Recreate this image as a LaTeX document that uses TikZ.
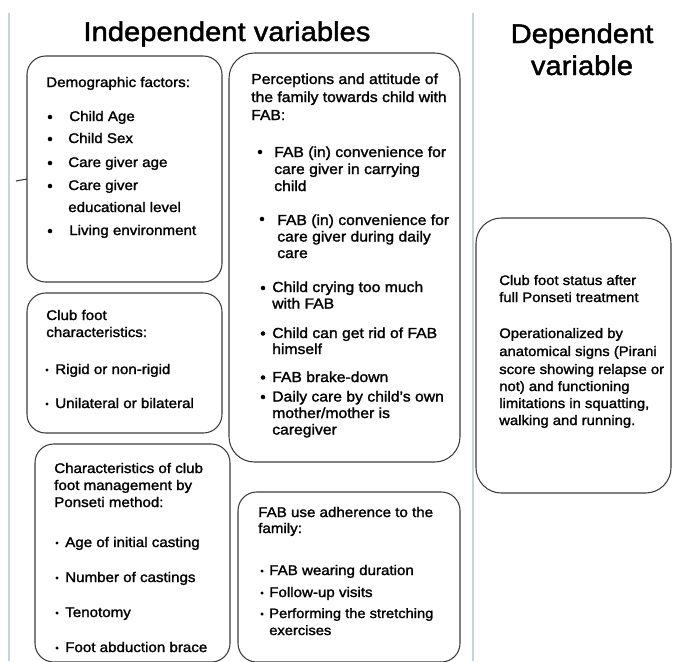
\documentclass[tikz,border=0pt]{standalone}
\usepackage{fontspec}
\setmainfont{Liberation Sans}[FakeStretch=1.08, FakeBold=1.6]
\usetikzlibrary{positioning}

\definecolor{rulecol}{HTML}{C8D2E2}
\definecolor{boxcol}{HTML}{3C3C3C}

\begin{document}
\begin{tikzpicture}[x=0.75pt, y=-0.75pt,
		box/.style={draw=boxcol, line width=0.8pt, rounded corners=14pt},
		txt/.style={anchor=base west, inner sep=0pt, font=\fontsize{10.5}{12}\selectfont},
		sz/.style={font=\fontsize{#1}{13}\selectfont},
		head/.style={anchor=base, inner sep=0pt, font=\fontsize{20.25}{24}\selectfont},
		dot/.style={circle, fill=black, inner sep=0pt, minimum size=2.6pt},
		bigdot/.style={dot, minimum size=3.4pt}]
		
		\useasboundingbox (0,0) rectangle (673,661);
		
		% Column rules
		\draw[rulecol, line width=1.1pt] (9,13) -- (9,661);
		\draw[rulecol, line width=1.1pt] (473,13) -- (473,661);
		
		% Headings
		\node[head] (indep) at (227,41) {Independent variables};
		\node[head] (dep) at (582,43) {Dependent};
		\node[head] (depvar) at (582,75) {variable};
		
		% Boxes
		\draw[box] (27,56) rectangle (222,282);
		\draw[box, rounded corners=19pt] (229,53) rectangle (460,462);
		\draw[box] (27,293) rectangle (222,433);
		\draw[box] (35,444) rectangle (230,662);
		\draw[box] (238,492) rectangle (460,662);
		\draw[box, rounded corners=19pt] (476,218) rectangle (671,493);
		\draw[boxcol, line width=0.8pt] (16,181) -- (27,179);
		
		% Demographic factors
		\node[txt] (demo) at (46,87) {Demographic factors:};
		\node[bigdot] (demob1) at (50,117) {};
		\node[txt] (demo1) at (69,121) {Child Age};
		\node[bigdot] (demob2) at (50,139) {};
		\node[txt] (demo2) at (68,143) {Child Sex};
		\node[bigdot] (demob3) at (50,163) {};
		\node[txt] (demo3) at (68,167) {Care giver age};
		\node[bigdot] (demob4) at (50,186) {};
		\node[txt] (demo4) at (68,190) {Care giver};
		\node[txt] (demo4b) at (68,212) {educational level};
		\node[bigdot] (demob5) at (50,231) {};
		\node[txt] (demo5) at (69,235) {Living environment};
		
		% Perceptions and attitude
		\node[txt, sz=10.9] (perc) at (251,84) {Perceptions and attitude of};
		\node[txt, sz=10.9] (percb) at (251,102) {the family towards child with};
		\node[txt, sz=10.9] (percc) at (251,120) {FAB:};
		\node[bigdot] (percb1) at (260,152) {};
		\node[txt, sz=10.9] (perc1) at (274,157) {FAB (in) convenience for};
		\node[txt, sz=10.9] (perc1b) at (274,174) {care giver in carrying};
		\node[txt, sz=10.9] (perc1c) at (274,191) {child};
		\node[bigdot] (percb2) at (262,219) {};
		\node[txt, sz=10.9] (perc2) at (277,225) {FAB (in) convenience for};
		\node[txt, sz=10.9] (perc2b) at (277,241.5) {care giver during daily};
		\node[txt, sz=10.9] (perc2c) at (277,258) {care};
		\node[bigdot] (percb3) at (263,288) {};
		\node[txt, sz=10.9] (perc3) at (272,292) {Child crying too much};
		\node[txt, sz=10.9] (perc3b) at (272,308.5) {with FAB};
		\node[bigdot] (percb4) at (263,333.5) {};
		\node[txt, sz=10.9] (perc4) at (272,338) {Child can get rid of FAB};
		\node[txt, sz=10.9] (perc4b) at (272,354) {himself};
		\node[bigdot] (percb5) at (263,377.5) {};
		\node[txt, sz=10.9] (perc5) at (272,382) {FAB brake-down};
		\node[bigdot] (percb6) at (263,397) {};
		\node[txt, sz=10.9] (perc6) at (272,401.5) {Daily care by child's own};
		\node[txt, sz=10.9] (perc6b) at (272,418) {mother/mother is};
		\node[txt, sz=10.9] (perc6c) at (272,434.5) {caregiver};
		
		% Club foot characteristics
		\node[txt] (cfc) at (46,320) {Club foot};
		\node[txt] (cfcb) at (46,337) {characteristics:};
		\node[dot] (cfcb1) at (47,370) {};
		\node[txt] (cfc1) at (55,374) {Rigid or non-rigid};
		\node[dot] (cfcb2) at (47,404) {};
		\node[txt] (cfc2) at (55,408) {Unilateral or bilateral};
		
		% Ponseti management
		\node[txt] (mgmt) at (54,473) {Characteristics of club};
		\node[txt] (mgmtb) at (54,490) {foot management by};
		\node[txt] (mgmtc) at (54,507) {Ponseti method:};
		\node[dot] (mgmtb1) at (57,543) {};
		\node[txt] (mgmt1) at (65,547) {Age of initial casting};
		\node[dot] (mgmtb2) at (57,578) {};
		\node[txt] (mgmt2) at (65,582) {Number of castings};
		\node[dot] (mgmtb3) at (57,613) {};
		\node[txt] (mgmt3) at (65,617) {Tenotomy};
		\node[dot] (mgmtb4) at (57,648) {};
		\node[txt] (mgmt4) at (65,652) {Foot abduction brace};
		
		% FAB adherence
		\node[txt] (adh) at (258,517) {FAB use adherence to the};
		\node[txt] (adhb) at (258,533) {family:};
		\node[dot] (adhb1) at (262,571) {};
		\node[txt] (adh1) at (269,575) {FAB wearing duration};
		\node[dot] (adhb2) at (262,593) {};
		\node[txt] (adh2) at (269,597) {Follow-up visits};
		\node[dot] (adhb3) at (262,614) {};
		\node[txt, sz=10.2] (adh3) at (269,618) {Performing the stretching};
		\node[txt, sz=10.2] (adh3b) at (269,635) {exercises};
		
		% Outcome
		\node[txt, sz=10.3] (out) at (499,285) {Club foot status after};
		\node[txt, sz=10.3] (outb) at (499,302) {full Ponseti treatment};
		\node[txt, sz=10.3] (op) at (499,338) {Operationalized by};
		\node[txt, sz=10.3] (opb) at (499,356) {anatomical signs (Pirani};
		\node[txt, sz=10.3] (opc) at (499,374) {score showing relapse or};
		\node[txt, sz=10.3] (opd) at (499,391) {not) and functioning};
		\node[txt, sz=10.3] (ope) at (499,408) {limitations in squatting,};
		\node[txt, sz=10.3] (opf) at (499,425) {walking and running.};
	\end{tikzpicture}
\end{document}
